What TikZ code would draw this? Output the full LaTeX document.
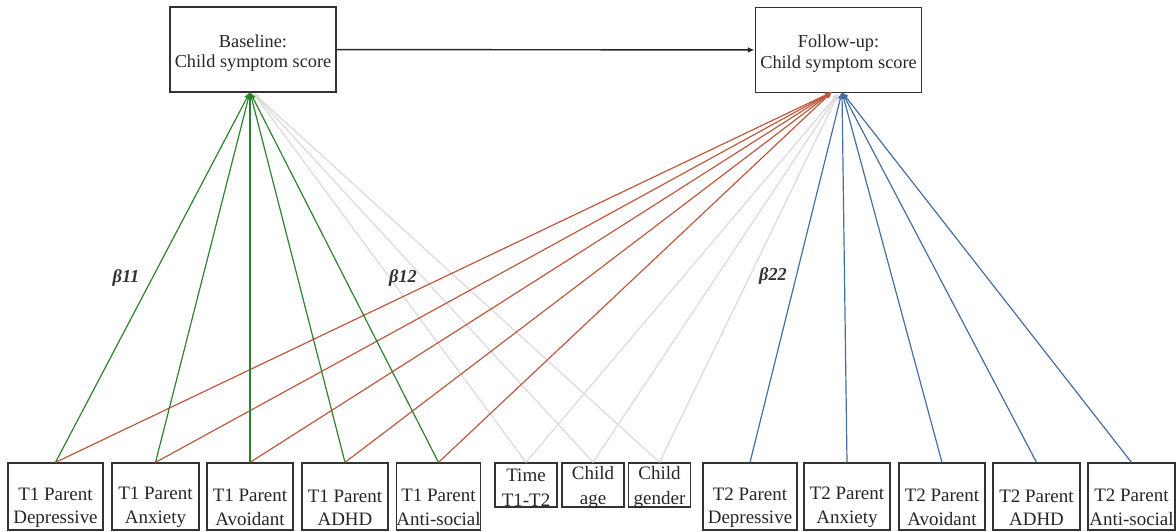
\documentclass[tikz,border=0pt]{standalone}
\usepackage{fontspec}
\setmainfont{Liberation Serif}
\usetikzlibrary{arrows.meta}

\definecolor{pathgreen}{RGB}{45,130,45}
\definecolor{pathred}{RGB}{190,88,62}
\definecolor{pathblue}{RGB}{72,110,158}
\definecolor{pathgray}{RGB}{218,218,218}

\def\boxrow{496.5}
\def\covrow{485}

\begin{document}
\begin{tikzpicture}[x=0.025cm,y=-0.025cm,line width=0.85pt,
    >={Latex[length=1.7mm,width=1.4mm]}]
    \tikzstyle{var}=[draw=black!80,line width=1pt,inner sep=0pt]
    \tikzstyle{vtext}=[align=center,inner sep=0pt,text=black!85,
        font=\fontsize{13.5}{17}\selectfont]
    \tikzstyle{outcome}=[var,line width=1.2pt,minimum width=4.15cm,minimum height=2.12cm]
    \tikzstyle{otext}=[vtext,yshift=-0.09cm,font=\fontsize{13}{14.5}\selectfont]
    \tikzstyle{parent}=[var,minimum height=1.67cm]
    \tikzstyle{ptext}=[vtext,yshift=-0.28cm]
    \tikzstyle{covar}=[var,minimum width=1.55cm,minimum height=1.1cm]
    \tikzstyle{ctext}=[vtext,yshift=-0.07cm,font=\fontsize{13.5}{18}\selectfont]
    \tikzstyle{beta}=[font=\fontsize{13}{14}\selectfont\bfseries\itshape,text=black!80]

    \useasboundingbox (0,0) rectangle (1176,532);

    % Draw the outcome nodes
    \node[outcome,label={[otext]center:Baseline:\\Child symptom score}] (base) at (253,49.5) {};
    \node[outcome,label={[otext]center:Follow-up:\\Child symptom score}] (follow) at (838.5,50) {};
    \coordinate (base-in) at (250,92);
    \coordinate (follow-in-r) at (832,92);
    \coordinate (follow-in-b) at (842,92);

    % Draw the T1 parent nodes
    \node[parent,minimum width=2.38cm,label={[ptext]center:T1 Parent\\Depressive}] (P1-1) at (55.5,\boxrow) {};
    \node[parent,minimum width=2.18cm,label={[ptext]center:T1 Parent\\Anxiety}] (P1-2) at (155.5,\boxrow) {};
    \node[parent,minimum width=2.15cm,label={[ptext]center:T1 Parent\\Avoidant}] (P1-3) at (250,\boxrow) {};
    \node[parent,minimum width=2.15cm,label={[ptext]center:T1 Parent\\ADHD}] (P1-4) at (345,\boxrow) {};
    \node[parent,minimum width=2.1cm,label={[ptext]center:T1 Parent\\Anti-social}] (P1-5) at (438.5,\boxrow) {};

    % Draw the covariates
    \node[covar,label={[ctext]center:Time\\T1-T2}] (C-1) at (526,\covrow) {};
    \node[covar,label={[ctext]center:Child\\age}] (C-2) at (593,\covrow) {};
    \node[covar,label={[ctext]center:Child\\gender}] (C-3) at (659.5,\covrow) {};

    % Draw the T2 parent nodes
    \node[parent,minimum width=2.35cm,label={[ptext]center:T2 Parent\\Depressive}] (P2-1) at (750,\boxrow) {};
    \node[parent,minimum width=2.15cm,label={[ptext]center:T2 Parent\\Anxiety}] (P2-2) at (847,\boxrow) {};
    \node[parent,minimum width=2.15cm,label={[ptext]center:T2 Parent\\Avoidant}] (P2-3) at (942,\boxrow) {};
    \node[parent,minimum width=2.18cm,label={[ptext]center:T2 Parent\\ADHD}] (P2-4) at (1036.5,\boxrow) {};
    \node[parent,minimum width=2.18cm,label={[ptext]center:T2 Parent\\Anti-social}] (P2-5) at (1131.5,\boxrow) {};

    % Stability path
    \draw[->,draw=black!85,line width=1pt] (base) -- (follow);

    % Covariates to both outcomes
    \foreach \i in {1,2,3} {
        \draw[->,draw=pathgray] (C-\i.north) -- (base.south);
        \draw[->,draw=pathgray] (C-\i.north) -- (follow.south);
    }

    % T1 parent to follow-up (cross-lagged)
    \foreach \i in {1,...,5}
        \draw[->,draw=pathred] (P1-\i.north) -- (follow-in-r);

    % T1 parent to baseline
    \foreach \i in {1,...,5}
        \draw[->,draw=pathgreen] (P1-\i.north) -- (base-in);

    % T2 parent to follow-up
    \foreach \i in {1,...,5}
        \draw[->,draw=pathblue] (P2-\i.north) -- (follow-in-b);

    % Path labels
    \node[beta] (b11) at (126,278) {β11};
    \node[beta] (b12) at (403,278) {β12};
    \node[beta] (b22) at (773,276) {β22};
\end{tikzpicture}
\end{document}
